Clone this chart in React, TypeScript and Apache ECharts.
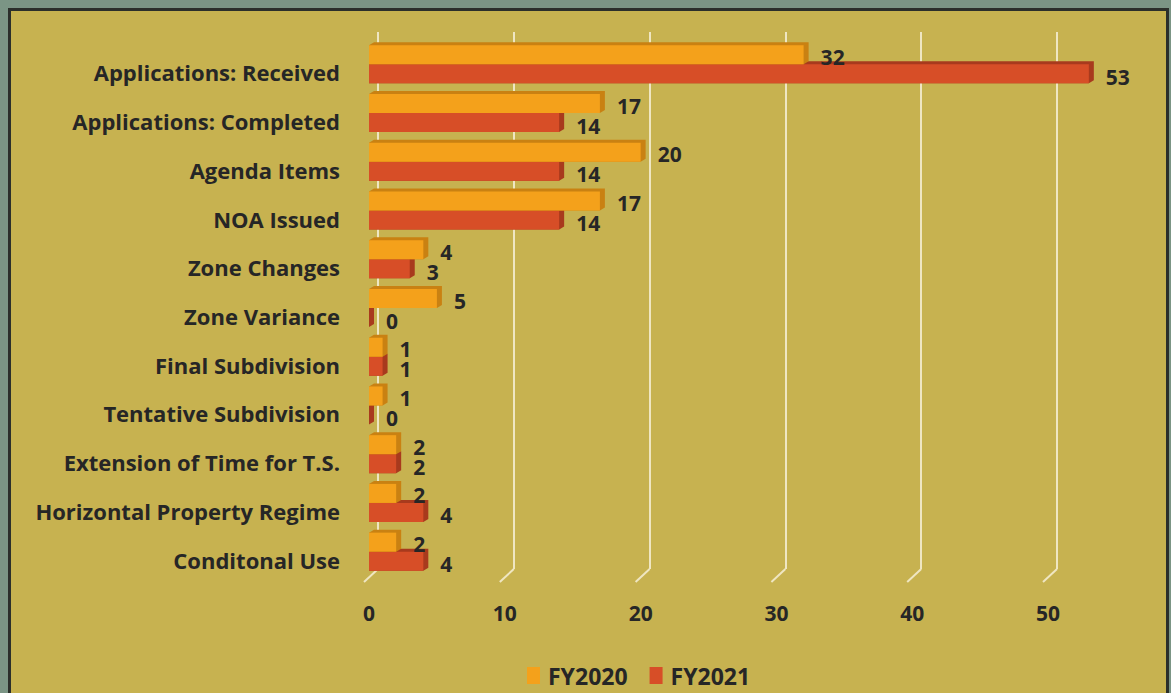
import React, { useEffect, useRef } from "react";
import * as echarts from "echarts";

// Planning activity counts by fiscal year
const categories = [
  "Applications: Received",
  "Applications: Completed",
  "Agenda Items",
  "NOA Issued",
  "Zone Changes",
  "Zone Variance",
  "Final Subdivision",
  "Tentative Subdivision",
  "Extension of Time for T.S.",
  "Horizontal Property Regime",
  "Conditonal Use",
];
const fy2020 = [32, 17, 20, 17, 4, 5, 1, 1, 2, 2, 2];
const fy2021 = [53, 14, 14, 14, 3, 0, 1, 0, 2, 4, 4];
const seriesNames = ["FY2020", "FY2021"];
const xTicks = [0, 10, 20, 30, 40, 50];

const FONT = "'Open Sans', 'Noto Sans', sans-serif";
const TEXT = "#262626";
const ORANGE = "#F4A11B";
const ORANGE_DARK = "#C98112";
const RED = "#D74E27";
const RED_DARK = "#A83A1D";
const OLIVE = "#C7B250";
const FRAME = "#7B9585";
const WALL_LINE = "#EFE6C2";

const BAR_W = 19;
const DX = 5;
const DY = 3;

// Top and end faces that give each bar its box-like depth
function depthRenderer(slot: number, color: string) {
  return (_params: any, api: any) => {
    const v = api.value(0);
    const cat = api.value(1);
    const p0 = api.coord([0, cat]);
    const p1 = api.coord([v, cat]);
    const yTop = p0[1] + (slot === 0 ? -BAR_W : 0);
    const yBot = yTop + BAR_W;
    const x0 = p0[0];
    const x1 = p1[0];
    return {
      type: "polygon",
      shape: {
        points: [
          [x0, yTop],
          [x0 + DX, yTop - DY],
          [x1 + DX, yTop - DY],
          [x1 + DX, yBot - DY],
          [x1, yBot],
          [x0, yBot],
        ],
      },
      style: { fill: color },
    };
  };
}

function valueLabel(dy: number) {
  return {
    show: true,
    position: "right",
    distance: 17,
    offset: [0, dy],
    fontSize: 21,
    lineHeight: 17,
    fontWeight: "bold",
    fontFamily: FONT,
    color: TEXT,
  };
}

export default function App() {
  const ref = useRef<HTMLDivElement>(null);

  useEffect(() => {
    if (!ref.current) return;
    const chart = echarts.init(ref.current, undefined, { renderer: "svg" });

    const background = {
      type: "rect",
      id: "panel",
      z: -100,
      shape: { x: 9.5, y: 9.5, width: 1158, height: 720 },
      style: { fill: OLIVE, stroke: "#2B2F2B", lineWidth: 3 },
    };

    chart.setOption({
      animation: false,
      backgroundColor: FRAME,
      textStyle: { fontFamily: FONT },
      graphic: { elements: [background] },
      legend: {
        data: seriesNames,
        left: 522,
        top: 659,
        icon: "rect",
        itemWidth: 13,
        itemHeight: 17,
        itemGap: 22,
        textStyle: {
          fontSize: 23,
          fontWeight: "bold",
          fontFamily: FONT,
          color: TEXT,
          padding: [0, 0, 0, 3],
        },
      },
      grid: [
        { left: 369, right: 55, top: 40, bottom: 117 },
        { left: 378, right: 114, top: 32, bottom: 124 },
      ],
      xAxis: [
        {
          gridIndex: 0,
          type: "value",
          min: 0,
          max: 55,
          interval: 10,
          axisLine: { show: false },
          axisTick: { show: false },
          splitLine: { show: false },
          axisLabel: {
            margin: 26,
            showMaxLabel: false,
            formatter: (v: number) => (xTicks.includes(v) ? String(v) : ""),
            fontSize: 21,
            fontWeight: "bold",
            fontFamily: FONT,
            color: TEXT,
          },
        },
        {
          gridIndex: 1,
          type: "value",
          min: 0,
          max: 50,
          interval: 10,
          axisLine: { show: false },
          axisTick: { show: false },
          axisLabel: { show: false },
          splitLine: { show: true, lineStyle: { color: WALL_LINE, width: 2 } },
        },
      ],
      yAxis: [
        {
          gridIndex: 0,
          type: "category",
          data: categories,
          inverse: true,
          axisLine: { show: false },
          axisTick: { show: false },
          axisLabel: {
            margin: 29,
            formatter: (v: string) => "{c|" + v + "}",
            rich: {
              c: {
                padding: [16, 0, 0, 0],
                fontSize: 22,
                fontWeight: "bold",
                fontFamily: FONT,
                color: TEXT,
              },
            },
          },
        },
        {
          gridIndex: 1,
          type: "value",
          min: 0,
          max: 1,
          show: false,
        },
      ],
      series: [
        {
          name: "FY2020 depth",
          type: "custom",
          xAxisIndex: 0,
          yAxisIndex: 0,
          z: 4,
          renderItem: depthRenderer(0, ORANGE_DARK),
          data: fy2020.map((v, i) => [v, i]),
          encode: { x: 0, y: 1 },
        },
        {
          name: "FY2021 depth",
          type: "custom",
          xAxisIndex: 0,
          yAxisIndex: 0,
          z: 2,
          renderItem: depthRenderer(1, RED_DARK),
          data: fy2021.map((v, i) => [v, i]),
          encode: { x: 0, y: 1 },
        },
        {
          name: seriesNames[0],
          type: "bar",
          xAxisIndex: 0,
          yAxisIndex: 0,
          z: 5,
          barWidth: BAR_W,
          barGap: "0%",
          data: fy2020,
          itemStyle: { color: ORANGE },
          label: valueLabel(2),
        },
        {
          name: seriesNames[1],
          type: "bar",
          xAxisIndex: 0,
          yAxisIndex: 0,
          z: 3,
          barWidth: BAR_W,
          barGap: "0%",
          data: fy2021,
          itemStyle: { color: RED },
          label: valueLabel(3),
        },
      ],
    });

    // Floor edges: each wall line bends toward the viewer at the bottom
    const floor = xTicks.map((t, i) => {
      const [px, py] = chart.convertToPixel({ xAxisIndex: 1, yAxisIndex: 1 }, [t, 0]) as number[];
      return {
        type: "line",
        id: "floor" + i,
        z: -50,
        shape: { x1: px, y1: py, x2: px - 14, y2: py + 13 },
        style: { stroke: WALL_LINE, lineWidth: 2 },
      };
    });
    chart.setOption({ graphic: { elements: [background, ...floor] } });

    return () => chart.dispose();
  }, []);

  return (
    <div
      ref={ref}
      style={{ position: "fixed", left: 0, top: 0, width: 1171, height: 693 }}
    />
  );
}
